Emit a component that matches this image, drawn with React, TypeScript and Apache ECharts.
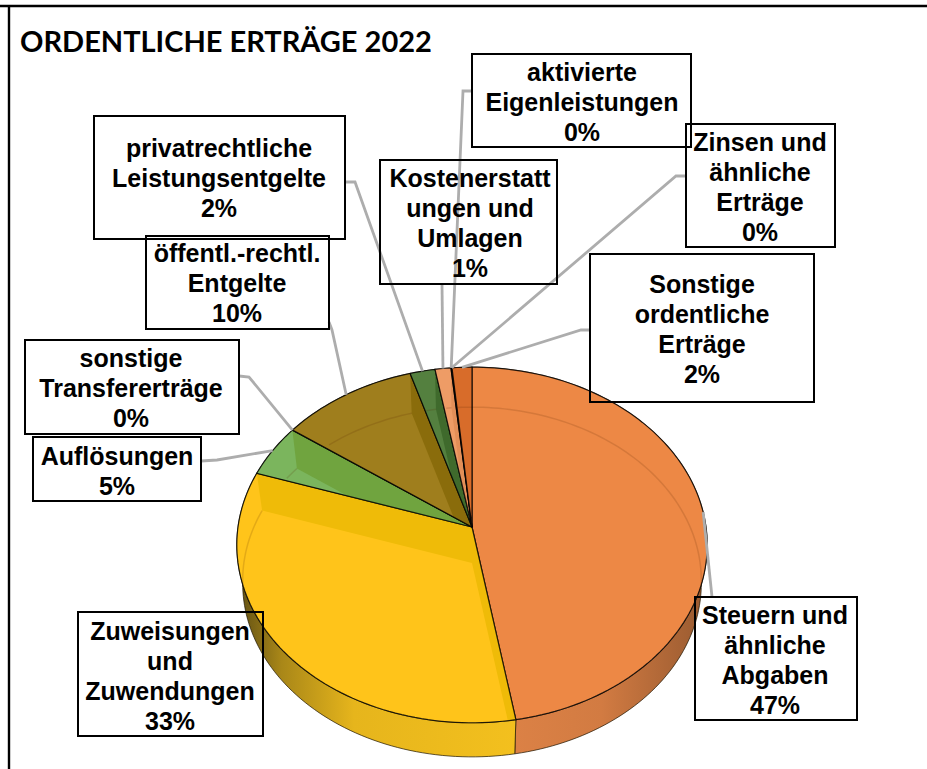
import React, { useEffect, useRef } from "react";
import * as echarts from "echarts";

const categories = [
  "Steuern und\nähnliche\nAbgaben",
  "Zuweisungen\nund\nZuwendungen",
  "Auflösungen",
  "sonstige\nTransfererträge",
  "öffentl.-rechtl.\nEntgelte",
  "privatrechtliche\nLeistungsentgelte",
  "Kostenerstatt\nungen und\nUmlagen",
  "aktivierte\nEigenleistungen",
  "Zinsen und\nähnliche\nErträge",
  "Sonstige\nordentliche\nErträge",
];
const values = [47.3, 32.8, 4.8, 0.02, 10.4, 1.9, 1.2, 0.04, 0.04, 1.5];

const mainColors = ["#ED8845", "#FFC41A", "#7BB55D", "#5B9BD5", "#9F7E1D", "#54803F", "#EE9C66", "#222222", "#222222", "#D86C2A"];
const bandColors = ["#ED8845", "#EFBB08", "#70A43F", "#5B9BD5", "#8A6C0B", "#3F6A2C", "#E38F58", "#222222", "#222222", "#D86C2A"];
const sideStops: Record<number, [number, string][]> = {
  0: [[0, "#E08447"], [0.55, "#D27B42"], [1, "#985A30"]],
  1: [[0, "#5F4E14"], [0.16, "#A98718"], [0.42, "#E6B51C"], [1, "#F3C01E"]],
};

// layout of the label boxes: box [x, y, w, h], text centre [x, y], leader start + elbow
const boxes = [
  { box: [695, 597, 162, 123], text: [775, 660], leader: [[712, 597]] },
  { box: [78, 612, 185, 124], text: [170, 676], leader: [] },
  { box: [33, 437, 168, 64], text: [117, 471], leader: [[201, 461], [217, 460]] },
  { box: [25, 340, 214, 94], text: [131, 388], leader: [[239, 376], [249, 377]] },
  { box: [146, 236, 183, 93], text: [237, 283], leader: [[329, 322], [332, 330]] },
  { box: [94, 116, 251, 123], text: [219, 178], leader: [[345, 182], [355, 182]] },
  { box: [380, 160, 177, 124], text: [470, 223], leader: [[442, 284]] },
  { box: [472, 54, 219, 93], text: [582, 102], leader: [[472, 91], [463, 91]] },
  { box: [686, 124, 149, 123], text: [760, 187], leader: [[686, 176], [676, 176]] },
  { box: [590, 254, 224, 148], text: [702, 329], leader: [[590, 330], [581, 330]] },
];

const APEX = [472, 527];
const RX = 234;
const RY = 176;
const PERSP = 0.101;
const BOTTOM_SCALE = 0.975;
const BOTTOM_SHIFT = 39;
const BEVEL_SHIFT = 36;
const BEVEL_SCALE = 0.975;

const total = values.reduce((a, b) => a + b, 0);
const starts = values.map((_, i) => values.slice(0, i).reduce((a, b) => a + b, 0) / total);

type P = number[];

function rim(f: number, s = 1, dy = 0): P {
  const t = f * Math.PI * 2;
  const u = Math.sin(t);
  const v = Math.cos(t);
  const w = 1 + PERSP * v;
  return [APEX[0] + (RX * s * u) / w, APEX[1] - (RY * s * v) / w + dy];
}
function arc(f0: number, f1: number, s = 1, dy = 0): P[] {
  const n = Math.max(2, Math.ceil((f1 - f0) * 240));
  const out: P[] = [];
  for (let i = 0; i <= n; i++) out.push(rim(f0 + ((f1 - f0) * i) / n, s, dy));
  return out;
}
const cross = (a: P, b: P, p: P) => (b[0] - a[0]) * (p[1] - a[1]) - (b[1] - a[1]) * (p[0] - a[0]);
function clip(subject: P[], region: P[]): P[] {
  let out = subject;
  for (let i = 0; i < region.length; i++) {
    const a = region[i];
    const b = region[(i + 1) % region.length];
    if (Math.hypot(a[0] - b[0], a[1] - b[1]) < 1e-6) continue;
    const input = out;
    out = [];
    for (let j = 0; j < input.length; j++) {
      const c = input[j];
      const d = input[(j + 1) % input.length];
      const cc = cross(a, b, c);
      const cd = cross(a, b, d);
      if (cc >= 0) out.push(c);
      if (cc >= 0 !== cd >= 0) {
        const k = cc / (cc - cd);
        out.push([c[0] + (d[0] - c[0]) * k, c[1] + (d[1] - c[1]) * k]);
      }
    }
    if (!out.length) break;
  }
  return out;
}
const inside = (p: P, region: P[]) =>
  region.every((a, i) => {
    const b = region[(i + 1) % region.length];
    return Math.hypot(a[0] - b[0], a[1] - b[1]) < 1e-6 || cross(a, b, p) >= 0;
  });

const seriesData = values.map((v) => [v]);
const EDGE = "rgba(0,0,0,0.82)";

function renderSide(params: any, api: any) {
  const i = params.dataIndex;
  const f0 = starts[i];
  const f1 = f0 + api.value(0) / total;
  const points = [...arc(f0, f1), ...arc(f0, f1, BOTTOM_SCALE, BOTTOM_SHIFT).reverse()];
  const stops = sideStops[i] || [[0, mainColors[i]], [1, mainColors[i]]];
  return {
    type: "polygon",
    shape: { points },
    style: {
      fill: new echarts.graphic.LinearGradient(0, 0, 1, 0, stops.map(([offset, color]) => ({ offset, color }))),
      stroke: "rgba(30,20,0,0.7)",
      lineWidth: 1,
    },
  };
}

function renderTop(params: any, api: any) {
  const i = params.dataIndex;
  const f0 = starts[i];
  const f1 = f0 + api.value(0) / total;
  const slice = [APEX, ...arc(f0, f1)];
  const children: any[] = [];
  children.push({ type: "polygon", shape: { points: slice }, style: { fill: mainColors[i] } });
  if (f1 - f0 > 0.002) {
    const shifted = [APEX[0], APEX[1] + BEVEL_SHIFT];
    [f0, f1].forEach((f) => {
      const quad = [APEX, rim(f), rim(f, BEVEL_SCALE, BEVEL_SHIFT), shifted];
      const band = clip(quad, slice);
      if (band.length > 2) {
        children.push({ type: "polygon", shape: { points: band }, style: { fill: bandColors[i] } });
      }
    });
    const inner = arc(f0, f1, BEVEL_SCALE, BEVEL_SHIFT).filter((p) => inside(p, slice));
    if (inner.length > 1) {
      children.push({
        type: "polyline",
        shape: { points: inner },
        style: { fill: "none", stroke: "rgba(90,40,0,0.16)", lineWidth: 1.5 },
      });
    }
  }
  children.push({
    type: "polygon",
    shape: { points: slice },
    style: { fill: "none", stroke: EDGE, lineWidth: 1.2 },
  });
  return { type: "group", children };
}

function renderLeader(params: any, api: any) {
  const i = params.dataIndex;
  const start = boxes[i].leader;
  if (!start.length) return null;
  const mid = starts[i] + api.value(0) / total / 2;
  return {
    type: "polyline",
    shape: { points: [...start, rim(mid)] },
    style: { fill: "none", stroke: "#ADADAD", lineWidth: 2.8 },
  };
}

const labelText = (i: number) => `${categories[i]}\n${Math.round(values[i])}%`;

const graphicElements: any[] = [
  { type: "line", z: 20, shape: { x1: 0, y1: 6, x2: 927, y2: 6 }, style: { stroke: "#000", lineWidth: 2.6 } },
  { type: "line", z: 20, shape: { x1: 9, y1: 5, x2: 9, y2: 769 }, style: { stroke: "#000", lineWidth: 2.4 } },
  {
    type: "text",
    z: 20,
    x: 20,
    y: 40,
    style: {
      text: "ORDENTLICHE ERTRÄGE 2022",
      fill: "#000",
      font: "bold 29px Lato, 'Open Sans', sans-serif",
      textVerticalAlign: "middle",
    },
  },
  ...boxes.flatMap((b, i) => [
    {
      type: "rect",
      z: 21,
      shape: { x: b.box[0], y: b.box[1], width: b.box[2], height: b.box[3] },
      style: { fill: "none", stroke: "#000", lineWidth: 2 },
    },
    {
      type: "text",
      z: 22,
      x: b.text[0],
      y: b.text[1],
      style: {
        text: labelText(i),
        fill: "#000",
        font: "bold 25px 'Liberation Sans', Arial, sans-serif",
        lineHeight: 30,
        align: "center",
        verticalAlign: "middle",
      },
    },
  ]),
];

export default function App() {
  const ref = useRef<HTMLDivElement>(null);
  useEffect(() => {
    document.body.style.margin = "0";
    document.body.style.background = "#fff";
    const chart = echarts.init(ref.current!, null, { renderer: "svg" });
    chart.setOption({
      animation: false,
      backgroundColor: "#ffffff",
      graphic: { elements: graphicElements },
      series: [
        { type: "custom", coordinateSystem: "none", silent: true, z: 2, renderItem: renderSide, data: seriesData },
        { type: "custom", coordinateSystem: "none", silent: true, z: 3, renderItem: renderTop, data: seriesData },
        { type: "custom", coordinateSystem: "none", silent: true, z: 4, renderItem: renderLeader, data: seriesData },
      ],
    });
    return () => chart.dispose();
  }, []);
  return <div ref={ref} style={{ width: 927, height: 769, overflow: "hidden" }} />;
}
